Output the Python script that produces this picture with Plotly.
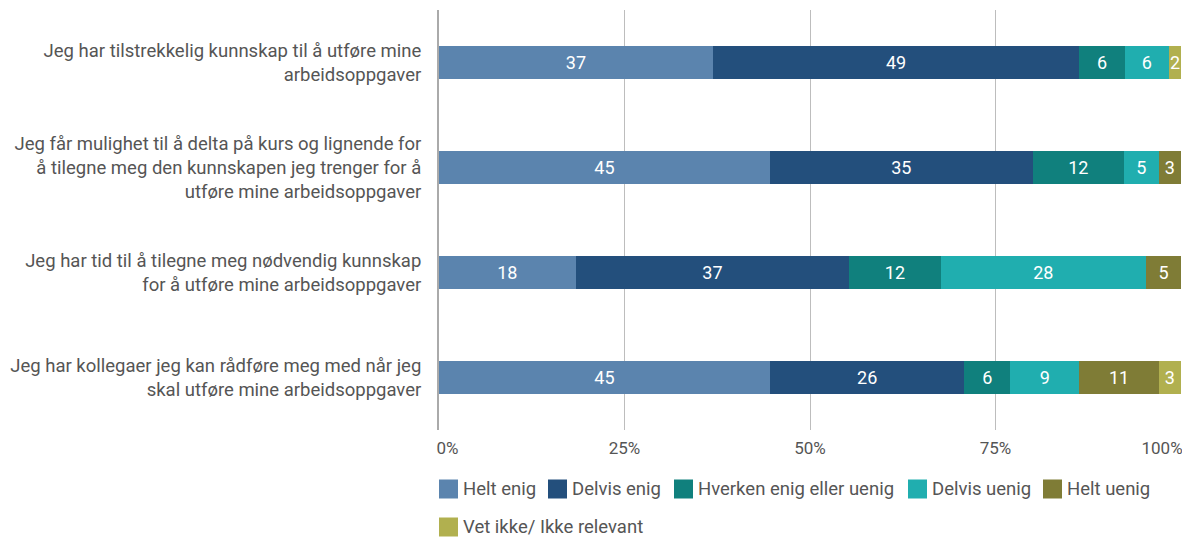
import plotly.graph_objects as go

categories = [
    "Jeg har tilstrekkelig kunnskap til å utføre mine<br>arbeidsoppgaver",
    "Jeg får mulighet til å delta på kurs og lignende for<br>å tilegne meg den kunnskapen jeg trenger for å<br>utføre mine arbeidsoppgaver",
    "Jeg har tid til å tilegne meg nødvendig kunnskap<br>for å utføre mine arbeidsoppgaver",
    "Jeg har kollegaer jeg kan rådføre meg med når jeg<br>skal utføre mine arbeidsoppgaver",
]

series_names = ["Helt enig", "Delvis enig", "Hverken enig eller uenig",
                "Delvis uenig", "Helt uenig", "Vet ikke/ Ikke relevant"]

helt_enig = [36.9, 44.6, 18.4, 44.6]
delvis_enig = [49.4, 35.4, 36.9, 26.2]
hverken = [6.1, 12.3, 12.3, 6.2]
delvis_uenig = [6.0, 4.7, 27.7, 9.3]
helt_uenig = [0.0, 3.0, 4.7, 10.7]
vet_ikke = [1.6, 0.0, 0.0, 3.0]

series_values = [helt_enig, delvis_enig, hverken, delvis_uenig, helt_uenig, vet_ikke]
colors = ["#5B84AE", "#234F7C", "#10807D", "#20AEAF", "#7F7C36", "#B1B04F"]

tick_vals = [0, 25, 50, 75, 100]
# edge labels padded so they stay inside the chart like the reference
tick_text = ["&nbsp;&nbsp;&nbsp;&nbsp;0%", "25%", "50%", "75%",
             "100%" + "&nbsp;" * 9]

FONT = "Roboto"
TEXT_COLOR = "#555555"

# figure sits inside the page body (8px default margin)
W, H = 1182, 530
OFF = 8
plot_left, plot_right, plot_top, plot_bottom = 439 - OFF, 1181 - OFF, 10 - OFF, 430 - OFF
plot_w = plot_right - plot_left
plot_h = plot_bottom - plot_top

fig = go.Figure()
for name, vals, col in zip(series_names, series_values, colors):
    fig.add_trace(go.Bar(
        y=categories, x=vals, name=name, orientation="h",
        marker=dict(color=col, line=dict(width=0)),
        text=[f"{v:.0f}" if v > 0 else "" for v in vals],
        textposition="inside", insidetextanchor="middle",
        textfont=dict(color="white", size=18, family=FONT),
        textangle=0, constraintext="none",
        showlegend=False,
    ))

# custom legend laid out in rows like the reference
legend_items = [  # (series index, square left edge in page px, row centre in page px)
    (0, 439, 489), (1, 548, 489), (2, 674, 489), (3, 908, 489), (4, 1043, 489),
    (5, 439, 527),
]
for i, xpage, ypage in legend_items:
    xpx = xpage - OFF
    ypx = ypage - OFF
    fig.add_shape(type="rect", xref="paper", yref="paper",
                  x0=(xpx - plot_left) / plot_w, x1=(xpx + 19 - plot_left) / plot_w,
                  y0=(plot_bottom - (ypx + 9.5)) / plot_h,
                  y1=(plot_bottom - (ypx - 9.5)) / plot_h,
                  fillcolor=colors[i], line=dict(width=0))
    fig.add_annotation(xref="paper", yref="paper",
                       x=(xpx + 22 - plot_left) / plot_w,
                       y=(plot_bottom - ypx) / plot_h,
                       text=series_names[i], showarrow=False,
                       xanchor="left", yanchor="middle",
                       font=dict(family=FONT, size=18.5, color=TEXT_COLOR))

fig.update_layout(
    barmode="stack",
    bargap=0.685,
    width=W, height=H,
    margin=dict(l=plot_left, r=W - plot_right, t=plot_top, b=H - plot_bottom,
                autoexpand=False),
    paper_bgcolor="white", plot_bgcolor="white",
    font=dict(family=FONT, color=TEXT_COLOR, size=18),
    xaxis=dict(range=[0, 100], tickvals=tick_vals, ticktext=tick_text,
               showgrid=True, gridcolor="#BDBDBD", gridwidth=1,
               zeroline=False, showline=False,
               tickfont=dict(size=17, color=TEXT_COLOR, family=FONT),
               ticklabelstandoff=6, ticklabeloverflow="allow"),
    yaxis=dict(autorange="reversed", showline=True, linecolor="#AAAAAA",
               linewidth=2, showgrid=False,
               tickfont=dict(size=18.5, color=TEXT_COLOR, family=FONT),
               ticks="", ticklabelstandoff=12),
    showlegend=False,
    uniformtext=dict(mode=False),
)

fig.write_html("out.html")
